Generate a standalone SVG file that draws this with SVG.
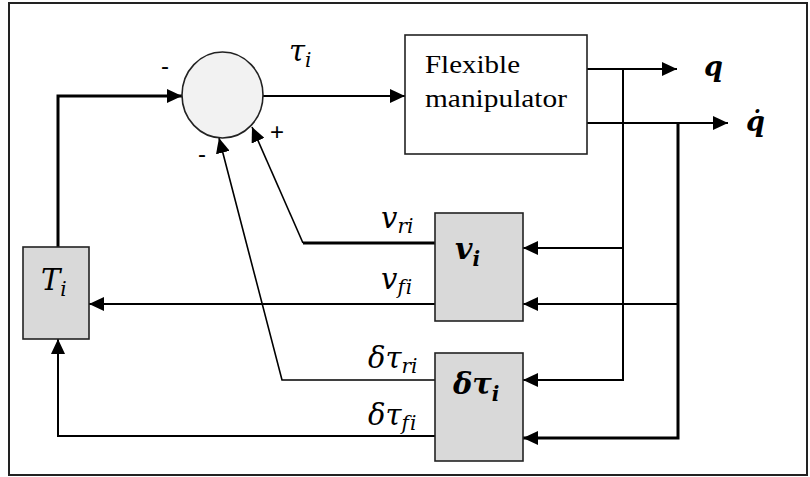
<svg xmlns="http://www.w3.org/2000/svg" width="810" height="477" viewBox="0 0 810 477">
<style>
.ln{fill:none;stroke:#000;stroke-width:2}
.thk{stroke-width:3}
.thn{stroke-width:1.6}
.blk{fill:#d9d9d9;stroke:#222;stroke-width:1.6}
.math{font-family:"DejaVu Serif","Liberation Serif",serif;font-style:italic;fill:#000;font-size:29px;font-variant-ligatures:none;font-feature-settings:"liga" 0}
.sub{font-size:20px}
.bm{font-family:"DejaVu Serif","Liberation Serif",serif;font-style:italic;font-weight:bold;fill:#000}
.txt{font-family:"Liberation Serif","Times New Roman",serif;fill:#000}
.sgn{font-family:"Liberation Sans",Arial,sans-serif;font-size:24px;fill:#000}
</style>
<defs>
<marker id="ah" markerUnits="userSpaceOnUse" markerWidth="16" markerHeight="14" refX="15" refY="7" orient="auto">
<path d="M0,0 L15,7 L0,14 Z" fill="#000"/>
</marker>
</defs>
<rect x="9" y="3" width="798" height="472" fill="#fff" stroke="#222" stroke-width="2"/>
<g id="connectors">
<path class="ln thk" d="M58,247 V96 H182" marker-end="url(#ah)"/>
<path class="ln" d="M263,96 H405" marker-end="url(#ah)"/>
<path class="ln" d="M587,69 H677" marker-end="url(#ah)"/>
<path class="ln" d="M587,123 H728" marker-end="url(#ah)"/>
<path class="ln" d="M623,69 V380 H523" marker-end="url(#ah)"/>
<path class="ln" d="M623,248 H523" marker-end="url(#ah)"/>
<path class="ln thk" d="M678,123 V438 H523" marker-end="url(#ah)"/>
<path class="ln" d="M678,304 H523" marker-end="url(#ah)"/>
<path class="ln thk" d="M435,243 H303"/>
<path class="ln thn" d="M303,243 L252,127" marker-end="url(#ah)"/>
<path class="ln" d="M435,304 H89" marker-end="url(#ah)"/>
<path class="ln thn" d="M435,380 H282 L219,138" marker-end="url(#ah)"/>
<path class="ln" d="M435,436 H58 V339" marker-end="url(#ah)"/>
</g>
<g id="sum">
<ellipse cx="222.5" cy="95" rx="40.5" ry="43" fill="#f2f2f2" stroke="#222" stroke-width="1.6"/>
</g>
<g id="flexible">
<rect x="405" y="35" width="182" height="119" fill="#fff" stroke="#222" stroke-width="1.6"/>
<text class="txt" x="425" y="73" font-size="26" textLength="95" lengthAdjust="spacingAndGlyphs">Flexible</text>
<text class="txt" x="425" y="107" font-size="26" textLength="142" lengthAdjust="spacingAndGlyphs">manipulator</text>
</g>
<g id="vi">
<rect class="blk" x="435" y="213" width="88" height="108"/>
<text class="bm" x="455" y="259" font-size="30">v<tspan font-size="20" dy="7">i</tspan></text>
</g>
<g id="dtau">
<rect class="blk" x="435" y="353" width="88" height="108"/>
<text class="bm" x="453" y="394" font-size="29">δτ<tspan font-size="20" dy="7">i</tspan></text>
</g>
<g id="Ti">
<rect class="blk" x="23" y="247" width="66" height="92"/>
<text class="math" x="41" y="290">T<tspan class="sub" dy="6">i</tspan></text>
</g>
<g id="labels">
<text class="math" x="289" y="61">τ<tspan class="sub" dy="6">i</tspan></text>
<text class="bm" x="704" y="76" font-size="27">q</text>
<text class="bm" x="746" y="131" font-size="27">q̇</text>
<text class="math" x="381" y="228">v<tspan class="sub" dy="5">ri</tspan></text>
<text class="math" x="381" y="289">v<tspan class="sub" dy="5">f<tspan dx="1">i</tspan></tspan></text>
<text class="math" x="368" y="368">δτ<tspan class="sub" dy="5">ri</tspan></text>
<text class="math" x="368" y="425">δτ<tspan class="sub" dy="5">f<tspan dx="1">i</tspan></tspan></text>
<text class="sgn" x="161" y="74">-</text>
<text class="sgn" x="270" y="140">+</text>
<text class="sgn" x="198" y="162">-</text>
</g>
</svg>
